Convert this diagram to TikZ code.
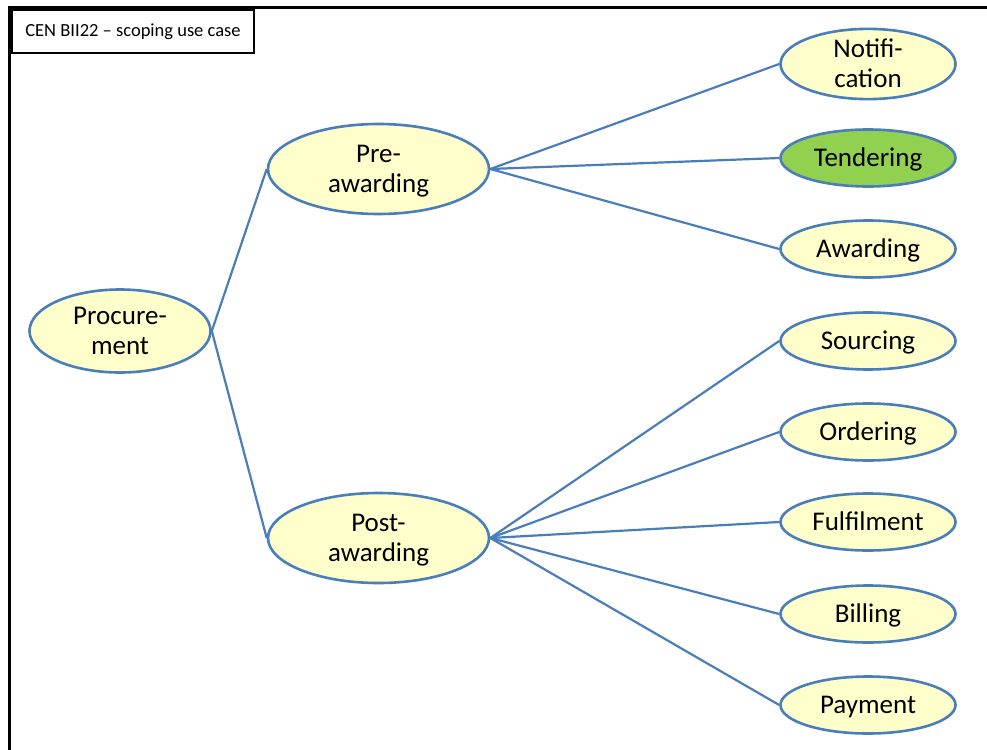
\documentclass[tikz,border=0pt]{standalone}
\usepackage{fontspec}
\setmainfont{Carlito}
\usetikzlibrary{shapes.geometric}
\definecolor{edgeblue}{HTML}{4A7EBB}
\definecolor{lightyel}{HTML}{FFFFCC}
\definecolor{tgreen}{HTML}{92D050}
\tikzset{
  bub/.style={ellipse, draw=edgeblue, line width=2.6pt, fill=lightyel, inner sep=0pt,
    align=center, font=\fontsize{27}{30}\selectfont, text depth=1pt},
  big/.style={bub, minimum width=221pt, minimum height=90pt},
  leaf/.style={bub, minimum width=175pt, minimum height=57pt},
  link/.style={draw=edgeblue, line width=2.2pt},
}
\begin{document}
\begin{tikzpicture}[x=1pt,y=-1pt]
\useasboundingbox (0,0) rectangle (987,749);
\fill[white] (0,0) rectangle (987,749);
% frame
\draw[line width=3pt] (9.5,760) -- (9.5,8) -- (1000,8);
\node[draw=black, line width=2pt, fill=white, minimum width=242pt, minimum height=43pt, inner sep=0pt,
  font=\fontsize{18.5}{20}\selectfont] (title) at (133,31.5) {CEN BII22 -- scoping use case};
% nodes
\node[bub, minimum width=181pt, minimum height=83pt] (proc) at (120,331) {Procure-\\ment};
\node[big] (pre) at (378.5,169) {Pre-\\awarding};
\node[big] (post) at (378.5,538) {Post-\\awarding};
\node[leaf, minimum height=68pt] (notif) at (868,64) {Notifi-\\cation};
\node[leaf, fill=tgreen] (tend) at (868,158) {Tendering};
\node[leaf] (award) at (868,249) {Awarding};
\node[leaf] (sourc) at (868,341) {Sourcing};
\node[leaf] (order) at (868,432) {Ordering};
\node[leaf] (fulf) at (868,522) {Fulfilment};
\node[leaf] (bill) at (868,614) {Billing};
\node[leaf] (pay) at (868,705) {Payment};
% connectors
\draw[link] (proc.east) -- (pre.west);
\draw[link] (proc.east) -- (post.west);
\foreach \n in {notif,tend,award}{\draw[link] (pre.east) -- (\n.west);}
\foreach \n in {sourc,order,fulf,bill,pay}{\draw[link] (post.east) -- (\n.west);}
\end{tikzpicture}
\end{document}
